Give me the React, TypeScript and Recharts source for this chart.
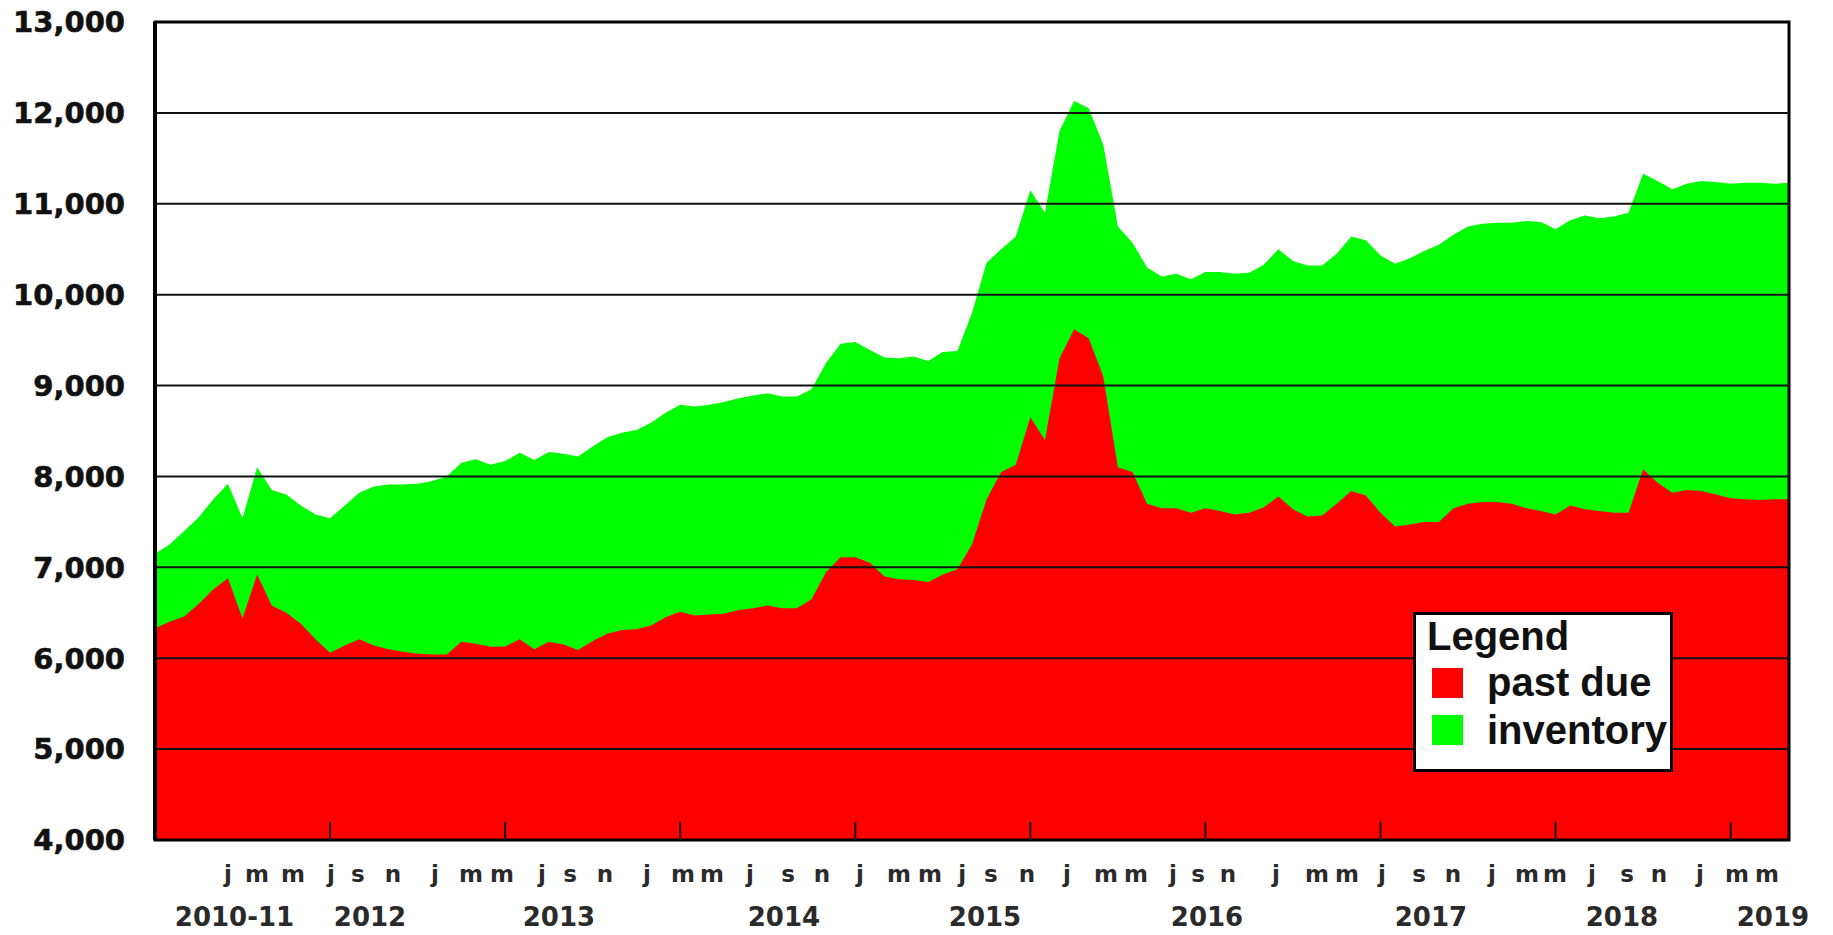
import React from 'react';
import { AreaChart, Area, XAxis, YAxis, ReferenceLine, ReferenceArea, Legend } from 'recharts';

// ---------- data ----------
const START_YEAR = 2010;
const START_MONTH = 7; // July 2010
const months: string[] = Array.from({ length: 113 }, (_, k) => {
  const t = START_MONTH - 1 + k;
  const y = START_YEAR + Math.floor(t / 12);
  const m = (t % 12) + 1;
  return `${y}-${String(m).padStart(2, '0')}`;
});

const inventory = [
  7150, 7250, 7400, 7550, 7750, 7920, 7540, 8100, 7850, 7800,
  7680, 7580, 7540, 7680, 7820, 7890, 7910, 7910, 7920, 7950,
  8000, 8150, 8190, 8130, 8170, 8260, 8180, 8270, 8250, 8220,
  8330, 8430, 8480, 8510, 8590, 8700, 8790, 8770, 8790, 8820,
  8860, 8890, 8915, 8880, 8880, 8960, 9250, 9460, 9480, 9390,
  9310, 9300, 9320, 9270, 9370, 9380, 9800, 10350, 10500, 10640,
  11150, 10900, 11800, 12130, 12050, 11650, 10750, 10570, 10300, 10200,
  10230, 10170, 10250, 10250, 10230, 10240, 10330, 10500, 10370, 10320,
  10320, 10450, 10640, 10600, 10430, 10340, 10400, 10480, 10550, 10660,
  10750, 10780, 10790, 10790, 10810, 10800, 10720, 10820, 10870, 10840,
  10860, 10900, 11330, 11250, 11160, 11220, 11250, 11240, 11220, 11230,
  11230, 11220, 11230,
];

const pastDue = [
  6330, 6400, 6460, 6600, 6760, 6880, 6440, 6920, 6580, 6500,
  6380, 6210, 6060, 6140, 6210, 6140, 6100, 6070, 6050, 6040,
  6040, 6180, 6160, 6125, 6130, 6210, 6100, 6180, 6150, 6090,
  6190, 6270, 6310, 6320, 6360, 6450, 6510, 6470, 6480, 6490,
  6530, 6550, 6580, 6550, 6550, 6650, 6950, 7110, 7110, 7050,
  6900, 6870, 6860, 6840, 6920, 6980, 7250, 7750, 8050, 8130,
  8650, 8400, 9300, 9620, 9520, 9100, 8100, 8050, 7700, 7650,
  7650, 7600, 7650, 7620, 7580, 7600, 7660, 7780, 7640, 7560,
  7570, 7700, 7840, 7790, 7600, 7450, 7470, 7500, 7500, 7650,
  7700, 7720, 7720, 7700, 7650, 7620, 7580, 7680, 7640, 7620,
  7600, 7600, 8080, 7930, 7820, 7850, 7840, 7800, 7760, 7750,
  7740, 7750, 7750,
];

// July tick marks on the data axis
const julyTicks = ['2011-07', '2012-07', '2013-07', '2014-07', '2015-07', '2016-07', '2017-07', '2018-07', '2019-07'];

// y axis
const yTicks = [4000, 5000, 6000, 7000, 8000, 9000, 10000, 11000, 12000, 13000];
const gridValues = [5000, 6000, 7000, 8000, 9000, 10000, 11000, 12000];

// month-letter label row (positions in months along the axis)
const monthLetters = [
  'j', 'm', 'm', 'j', 's', 'n', 'j', 'm', 'm', 'j', 's', 'n', 'j', 'm', 'm',
  'j', 's', 'n', 'j', 'm', 'm', 'j', 's', 'n', 'j', 'm', 'm', 'j', 's', 'n',
  'j', 'm', 'm', 'j', 's', 'n', 'j', 'm', 'm', 'j', 's', 'n', 'j', 'm', 'm',
];
const monthLetterPos = [
  5.0, 6.99, 9.46, 12.06, 13.91, 16.31, 19.19, 21.66, 23.78, 26.53, 28.45, 30.84, 33.72, 36.19, 38.18,
  40.78, 43.39, 45.72, 48.32, 51.0, 53.12, 55.32, 57.3, 59.77, 62.51, 65.18, 67.24, 69.78, 71.49, 73.55,
  76.84, 79.65, 81.7, 84.1, 86.64, 88.97, 91.64, 94.04, 95.96, 98.5, 100.9, 103.09, 105.9, 108.44, 110.49,
];

// year label row
const yearLabels = ['2010-11', '2012', '2013', '2014', '2015', '2016', '2017', '2018', '2019'];
const yearLabelPos = [5.45, 14.74, 27.69, 43.11, 56.89, 72.11, 87.46, 100.55, 110.9];

const legendItems = [
  { key: 'pastDue', label: 'past due', color: '#ff0000' },
  { key: 'inventory', label: 'inventory', color: '#00ff00' },
];

const data = months.map((m, i) => ({
  idx: i,
  month: m,
  inventory: inventory[i],
  pastDue: pastDue[i],
}));

const fmt = (v: number) => v.toLocaleString('en-US');

const renderLegend = () => (
  <div
    style={{
      position: 'relative',
      width: 260,
      height: 160,
      boxSizing: 'border-box',
      border: '3px solid #000',
      background: '#fff',
      fontFamily: '"Liberation Sans", Arial, sans-serif',
      fontWeight: 'bold',
      fontSize: 40,
      color: '#111',
    }}
  >
    <div style={{ position: 'absolute', left: 11, top: 1, lineHeight: '40px', whiteSpace: 'nowrap' }}>Legend</div>
    {legendItems.map((it, k) => (
      <div key={it.key}>
        <div
          style={{
            position: 'absolute',
            left: 16,
            top: 53 + k * 47,
            width: 31,
            height: 30,
            background: it.color,
          }}
        />
        <div
          style={{
            position: 'absolute',
            left: 71,
            top: 44 + k * 48,
            lineHeight: '46px',
            whiteSpace: 'nowrap',
          }}
        >
          {it.label}
        </div>
      </div>
    ))}
  </div>
);

export default function App() {
  return (
    <div style={{ position: 'absolute', left: 0, top: 0, background: '#fff' }}>
      <AreaChart
        width={1833}
        height={935}
        data={data}
        margin={{ top: 22, right: 44, left: 15, bottom: 14 }}
      >
        <Area
          type="linear"
          dataKey="inventory"
          name="inventory"
          stroke="none"
          fill="#00ff00"
          fillOpacity={1}
          baseValue={4000}
          isAnimationActive={false}
          dot={false}
          activeDot={false}
        />
        <Area
          type="linear"
          dataKey="pastDue"
          name="past due"
          stroke="none"
          fill="#ff0000"
          fillOpacity={1}
          baseValue={4000}
          isAnimationActive={false}
          dot={false}
          activeDot={false}
        />
        {gridValues.map((v) => (
          <ReferenceLine key={v} y={v} stroke="#111" strokeWidth={2} />
        ))}
        {julyTicks.map((m) => (
          <ReferenceLine
            key={m}
            segment={[
              { x: m, y: 4000 },
              { x: m, y: 4200 },
            ]}
            stroke="#111"
            strokeWidth={2}
          />
        ))}
        <ReferenceArea
          x1={months[0]}
          x2={months[months.length - 1]}
          y1={4000}
          y2={13000}
          fill="none"
          fillOpacity={0}
          stroke="#000"
          strokeWidth={3}
        />
        <YAxis
          width={140}
          domain={[4000, 13000]}
          ticks={yTicks}
          interval={0}
          allowDataOverflow
          tickFormatter={fmt}
          tickLine={false}
          tickMargin={24}
          axisLine={{ stroke: '#000', strokeWidth: 4 }}
          tick={{
            fill: '#111',
            stroke: '#111',
            strokeWidth: 0.6,
            fontSize: 29,
            fontWeight: 'bold',
            fontFamily: '"DejaVu Sans", sans-serif',
          }}
        />
        <XAxis
          dataKey="month"
          scale="point"
          height={0}
          tick={false}
          tickLine={false}
          axisLine={{ stroke: '#000', strokeWidth: 3 }}
        />
        <XAxis
          xAxisId="mon"
          dataKey="idx"
          type="number"
          domain={[0, 112]}
          allowDataOverflow
          height={40}
          ticks={monthLetterPos}
          interval={0}
          tickSize={0}
          tickMargin={26}
          tickLine={false}
          axisLine={false}
          tickFormatter={(_v: number, i: number) => monthLetters[i]}
          tick={{ fill: '#2a2a2a', fontSize: 23, fontWeight: 'bold', fontFamily: '"DejaVu Sans", sans-serif' }}
        />
        <XAxis
          xAxisId="yr"
          dataKey="idx"
          type="number"
          domain={[0, 112]}
          allowDataOverflow
          height={41}
          ticks={yearLabelPos}
          interval={0}
          tickSize={0}
          tickMargin={28}
          tickLine={false}
          axisLine={false}
          tickFormatter={(_v: number, i: number) => yearLabels[i]}
          tick={{ fill: '#2a2a2a', fontSize: 26, fontWeight: 'bold', fontFamily: '"DejaVu Sans", sans-serif' }}
        />
        <Legend
          layout="vertical"
          align="center"
          verticalAlign="middle"
          content={renderLegend}
          wrapperStyle={{ position: 'absolute', left: 1413, top: 612, width: 260, height: 160 }}
        />
      </AreaChart>
    </div>
  );
}
